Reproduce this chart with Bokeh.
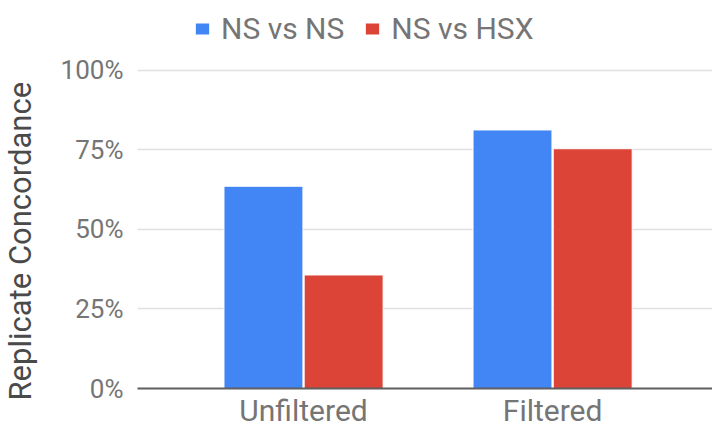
from bokeh.plotting import figure
from bokeh.models import (Range1d, Legend, LegendItem, NumeralTickFormatter,
                          FixedTicker, ColumnDataSource, Title)
from bokeh.transform import dodge
from bokeh.embed import file_html
from bokeh.resources import INLINE

categories = ["Unfiltered", "Filtered"]
series_names = ["NS vs NS", "NS vs HSX"]
ns_vs_ns = [0.636, 0.813]
ns_vs_hsx = [0.357, 0.754]
y_ticks = [0, 0.25, 0.5, 0.75, 1.0]
y_title = "Replicate Concordance"

colors = ["#4285F4", "#DB4437"]
x_pos = [i + 0.5 for i in range(len(categories))]

src = ColumnDataSource(dict(x=x_pos, cat=categories, a=ns_vs_ns, b=ns_vs_hsx))

p = figure(width=712, height=430, x_range=Range1d(-0.1667, 2.142),
           y_range=Range1d(0, 1.2201), output_backend="svg",
           toolbar_location=None)
p.min_border_left = 137
p.min_border_right = 0
p.min_border_top = 0
p.min_border_bottom = 42
p.outline_line_color = None
p.background_fill_color = "white"
p.border_fill_color = "white"

bw = 0.317
r1 = p.vbar(x=dodge("x", -0.161), top="a", width=bw, bottom=0, source=src,
            fill_color=colors[0], line_color="white", line_width=1)
r2 = p.vbar(x=dodge("x", 0.161), top="b", width=bw, bottom=0, source=src,
            fill_color=colors[1], line_color="white", line_width=1)

FONT = "Roboto"

# y axis
p.yaxis.ticker = FixedTicker(ticks=y_ticks)
p.yaxis.formatter = NumeralTickFormatter(format="0%")
p.yaxis.axis_line_color = None
p.yaxis.major_tick_line_color = None
p.yaxis.minor_tick_line_color = None
p.yaxis.major_tick_out = 0
p.yaxis.major_tick_in = 0
p.yaxis.major_label_text_font = FONT
p.yaxis.major_label_text_font_size = "26px"
p.yaxis.major_label_text_color = "#757575"
p.yaxis.major_label_standoff = 14

title = Title(text=y_title, align="left", offset=-12, standoff=13,
              padding=dict(left=0, right=0, top=0, bottom=12),
              text_font=FONT, text_font_size="31px", text_font_style="normal",
              text_color="#4a4a4a")
p.add_layout(title, "left")

# x axis
p.xaxis.ticker = FixedTicker(ticks=x_pos)
p.xaxis.major_label_overrides = {x: c for x, c in zip(x_pos, categories)}
p.xaxis.axis_line_color = "#5f5f5f"
p.xaxis.axis_line_width = 2
p.xaxis.major_tick_line_color = None
p.xaxis.minor_tick_line_color = None
p.xaxis.major_tick_out = 0
p.xaxis.major_tick_in = 0
p.xaxis.major_label_text_font = FONT
p.xaxis.major_label_text_font_size = "30px"
p.xaxis.major_label_text_color = "#757575"
p.xaxis.major_label_standoff = 4

p.xgrid.grid_line_color = None
p.ygrid.ticker = FixedTicker(ticks=y_ticks)
p.ygrid.grid_line_color = "#e0e0e0"
p.ygrid.grid_line_width = 1.5

legend = Legend(items=[LegendItem(label=series_names[0], renderers=[r1]),
                       LegendItem(label=series_names[1], renderers=[r2])],
                orientation="horizontal", location=(56, 342),
                border_line_color=None, background_fill_alpha=0,
                padding=0, margin=0, spacing=19,
                glyph_width=18, glyph_height=15, label_standoff=10,
                label_text_font=FONT, label_text_font_size="30px",
                label_text_color="#757575")
p.add_layout(legend)

open("out.html", "w").write(file_html(p, INLINE))
